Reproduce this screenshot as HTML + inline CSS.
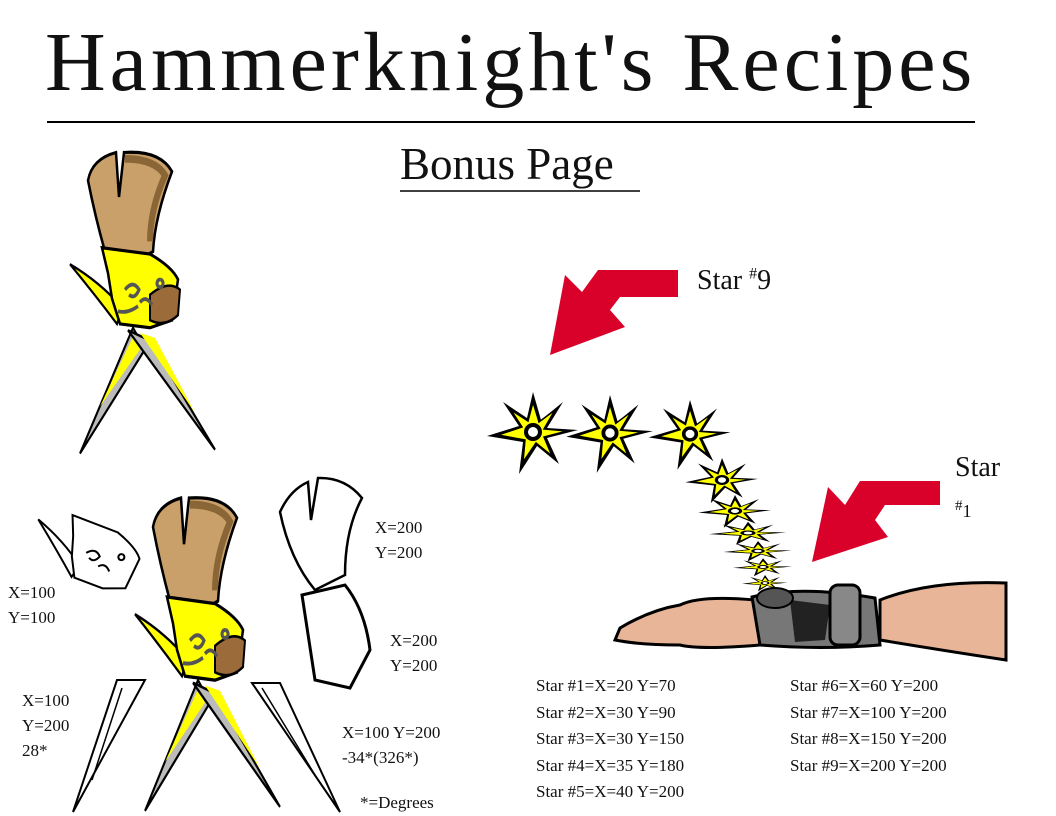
<!DOCTYPE html>
<html><head><meta charset="utf-8"><style>
html,body{margin:0;padding:0;background:#fff;}
body{width:1056px;height:816px;overflow:hidden;position:relative;font-family:"Liberation Serif",serif;}
.t{position:absolute;font-family:"Liberation Serif",serif;color:#111;white-space:nowrap;}
</style></head><body>
<svg width="1056" height="816" viewBox="0 0 1056 816" style="position:absolute;left:0;top:0">
<defs>
<g id="glove">
  <path d="M133,288 L80,387 L145,305 Z" fill="#bbb" stroke="#000" stroke-width="2"/>
  <path d="M133,295 L100,350 L140,305 Z" fill="#ff0"/>
  <path d="M128,290 L215,384 L150,298 Z" fill="#bbb" stroke="#000" stroke-width="2"/>
  <path d="M140,292 L195,355 L155,296 Z" fill="#ff0"/>
  <path d="M88,172 Q92,155 116,150 L119,185 L124,150 Q160,148 172,165 Q155,200 153,228 L126,240 L105,228 Q95,200 88,172 Z" fill="#c9a06a" stroke="#000" stroke-width="2.5"/>
  <path d="M125,155 Q155,155 165,168 Q150,195 150,220" fill="none" stroke="#8a6535" stroke-width="6"/>
  <path d="M70,238 Q95,262 117,285 L122,272 Q100,252 70,238 Z" fill="#ff0" stroke="#000" stroke-width="2"/>
  <path d="M102,225 L150,230 Q172,240 178,250 L172,282 L150,288 L120,285 L112,265 L108,245 Z" fill="#ff0" stroke="#000" stroke-width="2.5"/>
  <path d="M150,262 Q168,250 180,258 L178,278 Q165,288 150,282 Z" fill="#9b6b3a" stroke="#000" stroke-width="2"/>
  <path d="M125,258 q8,-8 14,0 q-4,8 -10,4 M140,268 q6,-6 12,2 M118,275 q10,2 20,-4 M160,250 a3,3 0 1 0 0.1,0" fill="none" stroke="#555" stroke-width="3"/>
</g>
<g id="star">
  <path d="M0,-40 L8,-12 L30,-30 L14,-4 L45,-2 L14,6 L26,32 L4,14 L-14,42 L-10,10 L-46,4 L-14,-6 L-30,-30 L-6,-14 Z" fill="#000"/>
  <path d="M0,-30 L6,-10 L22,-22 L11,-3 L34,-1 L11,5 L19,24 L3,11 L-10,30 L-8,8 L-35,3 L-11,-5 L-22,-22 L-5,-11 Z" fill="#ff0" stroke="#000" stroke-width="1.5"/>
  <circle r="7" fill="#fff" stroke="#000" stroke-width="4"/>
</g>
</defs>
<line x1="47" y1="122" x2="975" y2="122" stroke="#000" stroke-width="2"/>
<line x1="400" y1="191" x2="640" y2="191" stroke="#000" stroke-width="1.5"/>
<use href="#glove" transform="translate(0,-38) scale(1,1.27)"/>
<use href="#glove" transform="translate(65,300) scale(1,1.32)"/>
<g transform="translate(-38,295) rotate(15 125 255)" fill="#fff" stroke="#000" stroke-width="2">
  <path d="M70,238 Q95,262 117,285 L122,272 Q100,252 70,238 Z"/>
  <path d="M102,225 L150,230 Q172,240 178,250 L172,282 L150,288 L120,285 L112,265 L108,245 Z"/>
  <path d="M125,258 q8,-8 14,0 q-4,8 -10,4 M140,268 q6,-6 12,2 M160,250 a3,3 0 1 0 0.1,0" fill="none"/>
</g>
<path d="M117,680 L73,812 L145,680 Z" fill="#fff" stroke="#000" stroke-width="2"/>
<path d="M122,688 L92,780" stroke="#000" stroke-width="1.5"/>
<path d="M252,683 L340,812 L280,683 Z" fill="#fff" stroke="#000" stroke-width="2"/>
<path d="M262,688 L318,780" stroke="#000" stroke-width="1.5"/>
<path d="M280,512 Q290,490 308,482 L311,520 L318,478 Q345,477 362,498 Q345,530 345,575 L315,590 Q290,560 280,512 Z" fill="#fff" stroke="#000" stroke-width="2.5"/>
<path d="M302,595 L345,585 Q365,610 370,650 L350,688 L315,680 Z" fill="#fff" stroke="#000" stroke-width="3"/>
<path d="M678,270 L678,297 L620,297 L610,310 L625,327 L550,355 L565,275 L582,292 L598,270 Z" fill="#d9002a"/>
<path d="M940,481 L940,505 L885,505 L875,520 L888,537 L812,562 L828,487 L845,505 L860,481 Z" fill="#d9002a"/>
<use href="#star" transform="translate(533,432)"/>
<use href="#star" transform="translate(610,433) scale(0.95,0.95)"/>
<use href="#star" transform="translate(690,434) scale(0.9,0.85)"/>
<use href="#star" transform="translate(722,480) scale(0.8,0.55)"/>
<use href="#star" transform="translate(735,511) scale(0.8,0.4)"/>
<use href="#star" transform="translate(748,533) scale(0.85,0.28)"/>
<use href="#star" transform="translate(758,551) scale(0.75,0.25)"/>
<use href="#star" transform="translate(763,567) scale(0.65,0.22)"/>
<use href="#star" transform="translate(765,583) scale(0.5,0.2)"/>
<path d="M880,600 Q930,580 1006,583 L1006,660 Q940,650 880,640 Z" fill="#e8b598" stroke="#000" stroke-width="3"/>
<path d="M620,628 Q650,610 680,605 Q700,595 755,600 L760,645 Q700,650 680,645 Q640,645 615,640 Z" fill="#e8b598" stroke="#000" stroke-width="3"/>
<path d="M752,597 Q800,585 875,598 L880,645 Q820,650 760,645 Z" fill="#777" stroke="#000" stroke-width="3"/>
<path d="M790,600 L830,605 L825,640 L795,642 Z" fill="#222"/>
<ellipse cx="775" cy="598" rx="18" ry="10" fill="#555" stroke="#000" stroke-width="2"/>
<rect x="830" y="585" width="30" height="60" rx="8" fill="#888" stroke="#000" stroke-width="3"/>
</svg>
<div class="t" style="left:45px;top:14px;font-size:84px;letter-spacing:4px">Hammerknight's Recipes</div>
<div class="t" style="left:400px;top:138px;font-size:45px">Bonus Page</div>
<div class="t" style="left:697px;top:265px;font-size:28px">Star <sup style="font-size:16px">#</sup>9</div>
<div class="t" style="left:955px;top:452px;font-size:28px">Star</div>
<div class="t" style="left:955px;top:498px;font-size:18px"><sup>#</sup>1</div>
<div class="t" style="left:8px;top:580px;font-size:17px;line-height:25px">X=100<br>Y=100</div>
<div class="t" style="left:375px;top:515px;font-size:17px;line-height:25px">X=200<br>Y=200</div>
<div class="t" style="left:390px;top:628px;font-size:17px;line-height:25px">X=200<br>Y=200</div>
<div class="t" style="left:22px;top:688px;font-size:17px;line-height:25px">X=100<br>Y=200<br>28*</div>
<div class="t" style="left:342px;top:720px;font-size:17px;line-height:25px">X=100 Y=200<br>-34*(326*)</div>
<div class="t" style="left:360px;top:793px;font-size:17px">*=Degrees</div>
<div class="t" style="left:536px;top:673px;font-size:17px;line-height:26.5px">Star #1=X=20 Y=70<br>Star #2=X=30 Y=90<br>Star #3=X=30 Y=150<br>Star #4=X=35 Y=180<br>Star #5=X=40 Y=200</div>
<div class="t" style="left:790px;top:673px;font-size:17px;line-height:26.5px">Star #6=X=60 Y=200<br>Star #7=X=100 Y=200<br>Star #8=X=150 Y=200<br>Star #9=X=200 Y=200</div>
</body></html>
